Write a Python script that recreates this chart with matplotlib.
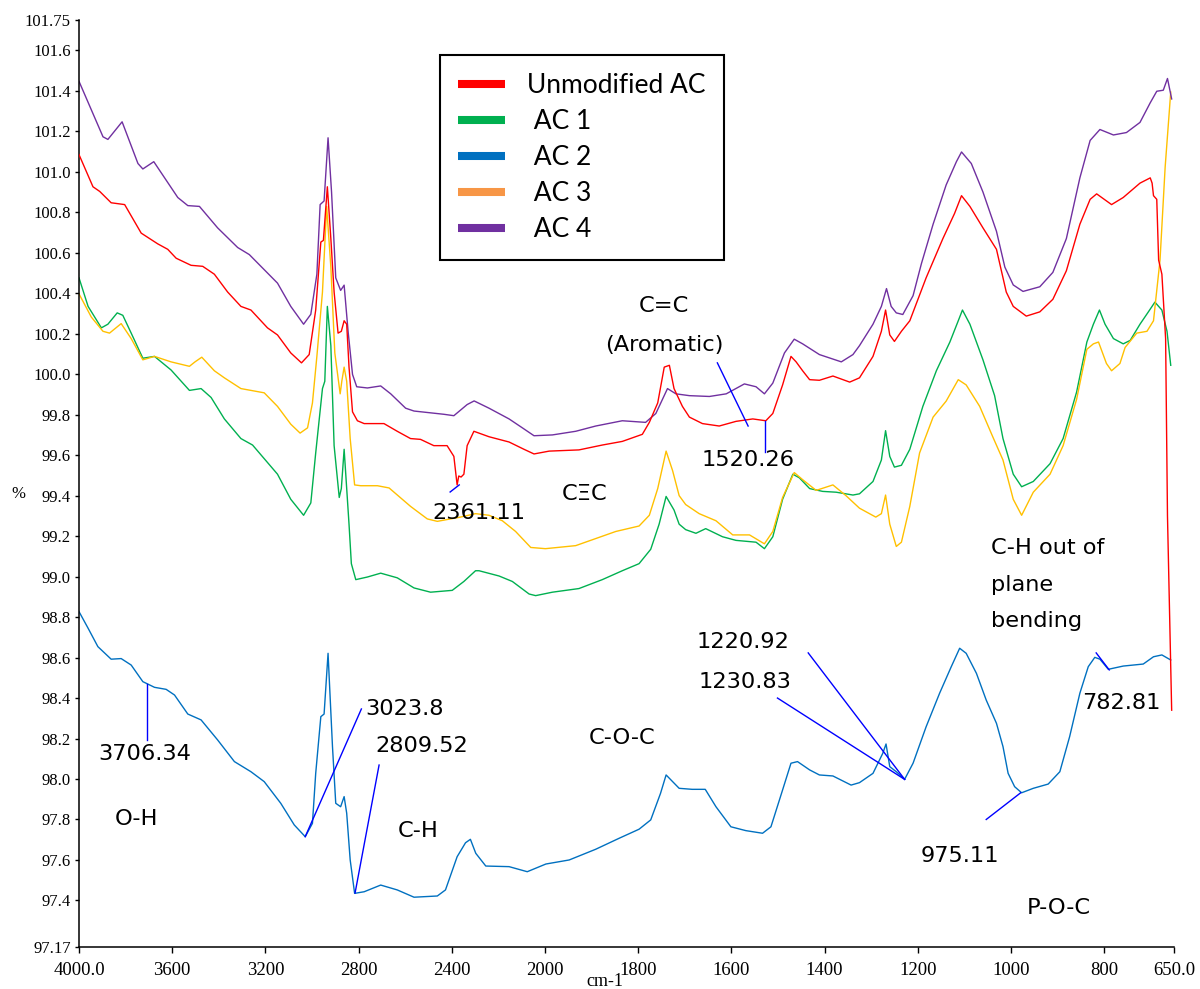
import numpy as np
import matplotlib
matplotlib.use('Agg')
import matplotlib.pyplot as plt
from matplotlib.lines import Line2D

# ---------------- data (wavenumber cm-1, %T) ----------------
unmodified_ac = [
    (4000, 101.085), (3940, 100.926), (3911, 100.903), (3862, 100.847), (3804, 100.838),
    (3733, 100.697), (3662, 100.644), (3619, 100.617), (3583, 100.573), (3519, 100.538),
    (3469, 100.533), (3419, 100.494), (3362, 100.406), (3305, 100.335), (3262, 100.317),
    (3191, 100.229), (3148, 100.194), (3091, 100.105), (3045, 100.056), (3012, 100.097),
    (2984, 100.317), (2962, 100.653), (2951, 100.661), (2934, 100.926), (2919, 100.67),
    (2905, 100.406), (2888, 100.203), (2874, 100.212), (2862, 100.264), (2851, 100.247),
    (2841, 100.035), (2826, 99.814), (2805, 99.77), (2776, 99.756), (2691, 99.756),
    (2634, 99.718), (2577, 99.682), (2534, 99.678), (2477, 99.647), (2420, 99.647),
    (2391, 99.594), (2377, 99.453), (2370, 99.497), (2360, 99.492), (2348, 99.506),
    (2334, 99.647), (2305, 99.718), (2240, 99.691), (2154, 99.665), (2090, 99.629),
    (2047, 99.606), (1991, 99.62), (1927, 99.626), (1877, 99.65), (1834, 99.668),
    (1791, 99.703), (1776, 99.762), (1758, 99.858), (1744, 100.035), (1733, 100.044),
    (1723, 99.929), (1705, 99.841), (1690, 99.788), (1662, 99.756), (1626, 99.744),
    (1590, 99.767), (1554, 99.779), (1526, 99.77), (1511, 99.806), (1490, 99.947),
    (1472, 100.088), (1461, 100.061), (1447, 100.017), (1432, 99.973), (1411, 99.97),
    (1382, 99.991), (1346, 99.961), (1325, 99.982), (1296, 100.088), (1278, 100.212),
    (1269, 100.317), (1260, 100.194), (1250, 100.162), (1235, 100.212), (1217, 100.264),
    (1182, 100.476), (1146, 100.67), (1121, 100.794), (1106, 100.882), (1088, 100.829),
    (1060, 100.723), (1031, 100.617), (1010, 100.406), (995, 100.335), (967, 100.287),
    (938, 100.308), (910, 100.37), (881, 100.511), (852, 100.741), (830, 100.864),
    (816, 100.891), (784, 100.838), (759, 100.873), (723, 100.944), (701, 100.97),
    (697, 100.944), (694, 100.882), (687, 100.864), (683, 100.564), (676, 100.494),
    (668, 100.176), (664, 99.3), (655, 98.34),
]

ac1 = [
    (4000, 100.476), (3961, 100.335), (3904, 100.229), (3876, 100.247), (3836, 100.303),
    (3812, 100.291), (3776, 100.203), (3726, 100.079), (3676, 100.088), (3605, 100.021),
    (3526, 99.92), (3476, 99.929), (3433, 99.885), (3376, 99.779), (3305, 99.682),
    (3255, 99.65), (3148, 99.506), (3091, 99.382), (3036, 99.303), (3005, 99.364),
    (2984, 99.611), (2955, 99.929), (2945, 99.965), (2934, 100.335), (2919, 100.141),
    (2905, 99.647), (2883, 99.391), (2874, 99.435), (2862, 99.629), (2851, 99.435),
    (2841, 99.259), (2831, 99.064), (2812, 98.985), (2762, 98.998), (2705, 99.017),
    (2634, 98.994), (2562, 98.944), (2491, 98.923), (2398, 98.932), (2348, 98.976),
    (2298, 99.029), (2283, 99.029), (2197, 99.003), (2140, 98.976), (2068, 98.914),
    (2040, 98.906), (1984, 98.923), (1927, 98.941), (1877, 98.985), (1834, 99.029),
    (1798, 99.064), (1773, 99.135), (1755, 99.259), (1740, 99.396), (1723, 99.329),
    (1712, 99.259), (1698, 99.232), (1676, 99.214), (1655, 99.237), (1619, 99.197),
    (1590, 99.179), (1547, 99.17), (1529, 99.138), (1511, 99.197), (1490, 99.382),
    (1468, 99.506), (1454, 99.488), (1432, 99.435), (1404, 99.421), (1375, 99.417),
    (1339, 99.403), (1325, 99.409), (1296, 99.47), (1278, 99.576), (1269, 99.721),
    (1260, 99.594), (1250, 99.541), (1235, 99.55), (1217, 99.629), (1189, 99.841),
    (1160, 100.017), (1131, 100.159), (1113, 100.264), (1104, 100.317), (1088, 100.247),
    (1060, 100.071), (1035, 99.894), (1017, 99.682), (995, 99.506), (977, 99.444),
    (952, 99.47), (916, 99.558), (888, 99.682), (859, 99.912), (837, 100.159),
    (823, 100.247), (810, 100.317), (798, 100.247), (780, 100.176), (759, 100.15),
    (744, 100.167), (723, 100.247), (705, 100.308), (691, 100.356), (676, 100.317),
    (665, 100.212), (657, 100.044),
]

ac2 = [
    (4000, 98.827), (3961, 98.745), (3919, 98.654), (3862, 98.592), (3819, 98.595),
    (3776, 98.563), (3726, 98.481), (3676, 98.453), (3626, 98.443), (3590, 98.415),
    (3533, 98.321), (3476, 98.292), (3405, 98.193), (3333, 98.086), (3262, 98.036),
    (3205, 97.987), (3134, 97.88), (3076, 97.773), (3029, 97.715), (2998, 97.781),
    (2984, 98.028), (2962, 98.308), (2948, 98.321), (2931, 98.621), (2912, 98.16),
    (2898, 97.88), (2877, 97.863), (2862, 97.913), (2851, 97.831), (2836, 97.6),
    (2817, 97.435), (2776, 97.443), (2705, 97.476), (2634, 97.452), (2562, 97.416),
    (2462, 97.422), (2427, 97.452), (2377, 97.616), (2341, 97.685), (2320, 97.702),
    (2297, 97.633), (2254, 97.57), (2154, 97.567), (2076, 97.542), (1998, 97.58),
    (1948, 97.6), (1891, 97.653), (1841, 97.707), (1798, 97.752), (1773, 97.798),
    (1752, 97.929), (1740, 98.02), (1726, 97.987), (1712, 97.954), (1684, 97.949),
    (1656, 97.949), (1633, 97.863), (1601, 97.764), (1569, 97.745), (1533, 97.732),
    (1515, 97.764), (1490, 97.946), (1472, 98.078), (1458, 98.086), (1432, 98.045),
    (1411, 98.02), (1382, 98.015), (1343, 97.97), (1325, 97.982), (1296, 98.028),
    (1275, 98.127), (1268, 98.173), (1260, 98.061), (1246, 98.036), (1228, 97.999),
    (1210, 98.078), (1182, 98.258), (1153, 98.424), (1128, 98.555), (1110, 98.646),
    (1096, 98.621), (1074, 98.522), (1053, 98.39), (1031, 98.275), (1017, 98.16),
    (1006, 98.028), (992, 97.962), (977, 97.932), (952, 97.954), (920, 97.975),
    (895, 98.036), (874, 98.209), (852, 98.424), (834, 98.555), (820, 98.601),
    (809, 98.592), (791, 98.542), (759, 98.558), (716, 98.568), (694, 98.604),
    (676, 98.613), (657, 98.588),
]

ac3 = [
    (4000, 100.397), (3947, 100.282), (3897, 100.212), (3869, 100.203), (3819, 100.25),
    (3776, 100.176), (3726, 100.071), (3676, 100.088), (3605, 100.061), (3526, 100.039),
    (3502, 100.061), (3473, 100.084), (3419, 100.017), (3376, 99.982), (3305, 99.929),
    (3205, 99.908), (3148, 99.841), (3091, 99.753), (3051, 99.709), (3019, 99.735),
    (2998, 99.858), (2979, 100.088), (2955, 100.406), (2937, 100.829), (2919, 100.529),
    (2902, 100.105), (2879, 99.903), (2872, 99.965), (2862, 100.035), (2851, 99.965),
    (2836, 99.682), (2817, 99.453), (2791, 99.449), (2719, 99.449), (2669, 99.438),
    (2577, 99.347), (2505, 99.285), (2462, 99.273), (2363, 99.294), (2298, 99.311),
    (2240, 99.303), (2183, 99.276), (2126, 99.223), (2061, 99.144), (1999, 99.138),
    (1934, 99.153), (1891, 99.188), (1848, 99.223), (1798, 99.25), (1776, 99.303),
    (1758, 99.435), (1740, 99.62), (1726, 99.523), (1712, 99.4), (1698, 99.356),
    (1669, 99.311), (1633, 99.276), (1597, 99.206), (1561, 99.206), (1529, 99.162),
    (1511, 99.223), (1490, 99.391), (1465, 99.514), (1447, 99.479), (1418, 99.426),
    (1382, 99.453), (1354, 99.4), (1325, 99.338), (1290, 99.294), (1278, 99.311),
    (1269, 99.403), (1260, 99.259), (1246, 99.149), (1235, 99.17), (1217, 99.347),
    (1196, 99.611), (1167, 99.788), (1139, 99.867), (1113, 99.973), (1096, 99.947),
    (1067, 99.841), (1039, 99.691), (1017, 99.576), (995, 99.382), (977, 99.303),
    (952, 99.417), (916, 99.506), (888, 99.647), (859, 99.876), (837, 100.123),
    (823, 100.15), (812, 100.159), (795, 100.053), (784, 100.017), (766, 100.053),
    (755, 100.132), (730, 100.203), (708, 100.212), (694, 100.264), (680, 100.564),
    (669, 101.023), (657, 101.394),
]

ac4 = [
    (4000, 101.447), (3897, 101.173), (3876, 101.16), (3815, 101.247), (3747, 101.041),
    (3726, 101.014), (3679, 101.05), (3576, 100.873), (3533, 100.833), (3483, 100.829),
    (3405, 100.723), (3319, 100.626), (3269, 100.591), (3148, 100.45), (3091, 100.335),
    (3036, 100.247), (3005, 100.296), (2979, 100.494), (2965, 100.838), (2948, 100.856),
    (2931, 101.168), (2916, 100.9), (2898, 100.476), (2877, 100.414), (2862, 100.44),
    (2845, 100.212), (2826, 99.999), (2808, 99.938), (2762, 99.932), (2705, 99.942),
    (2662, 99.903), (2598, 99.832), (2562, 99.818), (2434, 99.802), (2391, 99.795),
    (2334, 99.85), (2304, 99.868), (2240, 99.832), (2154, 99.779), (2097, 99.735),
    (2047, 99.696), (1984, 99.70), (1934, 99.718), (1891, 99.744), (1834, 99.77),
    (1784, 99.762), (1762, 99.806), (1737, 99.929), (1719, 99.903), (1690, 99.894),
    (1647, 99.89), (1611, 99.903), (1572, 99.952), (1547, 99.938), (1529, 99.903),
    (1511, 99.956), (1486, 100.105), (1465, 100.173), (1447, 100.15), (1411, 100.097),
    (1364, 100.061), (1339, 100.097), (1325, 100.141), (1296, 100.247), (1278, 100.335),
    (1267, 100.423), (1257, 100.335), (1246, 100.303), (1232, 100.295), (1210, 100.388),
    (1192, 100.547), (1167, 100.741), (1139, 100.935), (1117, 101.05), (1106, 101.098),
    (1085, 101.041), (1060, 100.9), (1031, 100.706), (1013, 100.529), (995, 100.441),
    (974, 100.409), (938, 100.432), (910, 100.503), (881, 100.67), (852, 100.97),
    (830, 101.155), (809, 101.209), (780, 101.182), (752, 101.194), (723, 101.244),
    (701, 101.341), (687, 101.398), (673, 101.403), (664, 101.461), (655, 101.36),
]

series_labels = ['Unmodified AC', ' AC 1', ' AC 2', ' AC 3', ' AC 4']
line_colors = ['#FF0000', '#00B050', '#0070C0', '#FFC000', '#7030A0']
legend_colors = ['#FF0000', '#00B050', '#0070C0', '#F79646', '#7030A0']

x_ticks = [4000, 3600, 3200, 2800, 2400, 2000, 1800, 1600, 1400, 1200, 1000, 800, 650]
x_tick_labels = ['4000.0', '3600', '3200', '2800', '2400', '2000', '1800', '1600',
                 '1400', '1200', '1000', '800', '650.0']
y_ticks = [97.17, 97.4, 97.6, 97.8, 98.0, 98.2, 98.4, 98.6, 98.8, 99.0, 99.2, 99.4,
           99.6, 99.8, 100.0, 100.2, 100.4, 100.6, 100.8, 101.0, 101.2, 101.4, 101.6, 101.75]
y_tick_labels = ['97.17'] + ['%.1f' % v for v in y_ticks[1:-1]] + ['101.75']

# annotation texts: (text, wavenumber, %T, horizontal alignment)  -- baseline anchored
annotation_texts = [
    ('C=C', 1744, 100.309, 'center'),
    ('(Aromatic)', 1744, 100.115, 'center'),
    ('1520.26', 1564, 99.547, 'center'),
    ('C\u039eC', 1914, 99.377, 'center'),
    ('2361.11', 2283, 99.285, 'center'),
    ('3706.34', 3717, 98.094, 'center'),
    ('3023.8', 2602, 98.316, 'center'),
    ('2809.52', 2527, 98.132, 'center'),
    ('O-H', 3752, 97.773, 'center'),
    ('C-H', 2544, 97.715, 'center'),
    ('1220.92', 1576, 98.649, 'center'),
    ('1230.83', 1570, 98.451, 'center'),
    ('C-O-C', 1834, 98.172, 'center'),
    ('C-H out of', 1043, 99.112, 'left'),
    ('plane', 1043, 98.929, 'left'),
    ('bending', 1043, 98.751, 'left'),
    ('782.81', 764, 98.345, 'center'),
    ('975.11', 1110, 97.591, 'center'),
    ('P-O-C', 897, 97.332, 'center'),
]

# leader lines: ((wn1, T1), (wn2, T2))
leader_lines = [
    ((2407, 99.418), (2368, 99.453)),
    ((1630, 100.056), (1564, 99.744)),
    ((1527, 99.769), (1527, 99.616)),
    ((3709, 98.469), (3709, 98.193)),
    ((3029, 97.715), (2788, 98.346)),
    ((2815, 97.437), (2712, 98.069)),
    ((1435, 98.623), (1228, 97.998)),
    ((1501, 98.40), (1228, 97.998)),
    ((1053, 97.80), (979, 97.932)),
    ((817, 98.623), (789, 98.539)),
]


# ---------------- piecewise wavenumber scale (2x expansion below 2000) ----------------
def fwd(x):
    x = np.asarray(x, dtype=float)
    return np.where(x > 2000, 2000 + (x - 2000) / 2.0, x)


def inv(u):
    u = np.asarray(u, dtype=float)
    return np.where(u > 2000, 2000 + (u - 2000) * 2.0, u)


fig = plt.figure(figsize=(12, 9.89), dpi=100)
ax = fig.add_axes([79 / 1200, 42 / 989, 1095 / 1200, 927 / 989])
ax.set_xscale('function', functions=(fwd, inv))

all_series = [unmodified_ac, ac1, ac2, ac3, ac4]
draw_order = [2, 1, 3, 4, 0]
for i in draw_order:
    wn = [p[0] for p in all_series[i]]
    tv = [p[1] for p in all_series[i]]
    ax.plot(wn, tv, color=line_colors[i], lw=1.0, zorder=2 + (i == 0))

for (a, b) in leader_lines:
    ax.plot([a[0], b[0]], [a[1], b[1]], color='#0000FF', lw=1.0, zorder=4)

for (txt, xw, yt, ha) in annotation_texts:
    ax.text(xw, yt, txt, ha=ha, va='baseline', fontsize=16.2,
            family='DejaVu Sans', color='black', zorder=5)

ax.set_xlim(4000, 650)
ax.set_ylim(97.17, 101.75)

ax.set_xticks(x_ticks)
ax.set_xticklabels(x_tick_labels, family='Liberation Serif', fontsize=13.5)
ax.set_yticks(y_ticks)
ax.set_yticklabels(y_tick_labels, family='Liberation Serif', fontsize=12)
ax.minorticks_off()

for s in ['top', 'right']:
    ax.spines[s].set_visible(False)
for s in ['left', 'bottom']:
    ax.spines[s].set_linewidth(1.1)
    ax.spines[s].set_color('black')
ax.tick_params(axis='x', direction='out', length=4, width=1, pad=7)
ax.tick_params(axis='y', direction='out', length=3, width=1, pad=3)

ax.set_xlabel('cm-1', family='Liberation Serif', fontsize=13)
ax.xaxis.set_label_coords((605 - 79) / 1095, (947 - 981) / 927)
ax.xaxis.label.set_va('center')
ax.set_ylabel('%', family='Liberation Serif', fontsize=12, rotation=0)
ax.yaxis.set_label_coords((18 - 79) / 1095, (947 - 494) / 927)
ax.yaxis.label.set_va('center')
ax.yaxis.label.set_ha('center')

handles = [Line2D([0], [0], color=c, lw=5.8, solid_capstyle='butt') for c in legend_colors]
leg = ax.legend(handles, series_labels, loc='upper left',
                bbox_to_anchor=(440 / 1200, 1 - 55 / 989), bbox_transform=fig.transFigure,
                prop={'family': 'Lato', 'size': 19}, frameon=True, fancybox=False,
                handlelength=1.78, handletextpad=0.85, labelspacing=0.42,
                borderpad=0.68, borderaxespad=0.0)
leg.get_frame().set_edgecolor('black')
leg.get_frame().set_linewidth(1.5)
leg.get_frame().set_alpha(1)

fig.savefig('out.png', dpi=100)
